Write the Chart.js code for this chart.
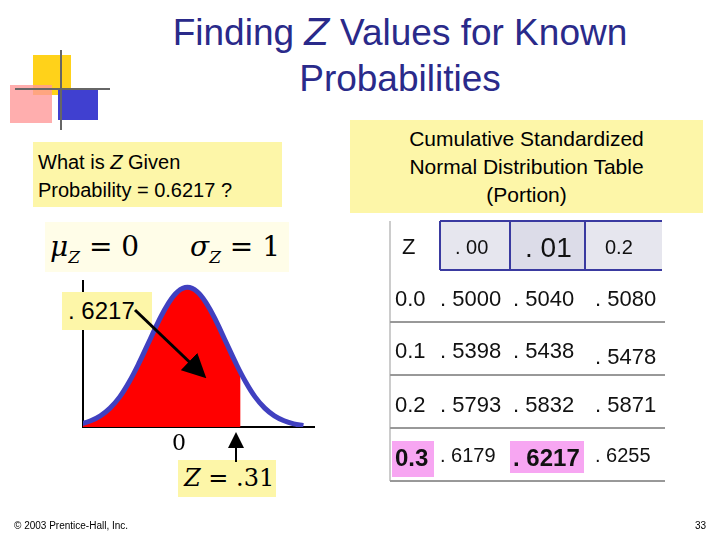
<!DOCTYPE html>
<html>
<head>
<meta charset="utf-8">
<script src="https://cdn.jsdelivr.net/npm/chart.js@4/dist/chart.umd.min.js"></script>
<style>
  html, body { margin: 0; padding: 0; background: #fff; }
  body { width: 720px; height: 540px; position: relative; overflow: hidden; font-family: Arial, "Liberation Sans", sans-serif; }
  .abs { position: absolute; white-space: nowrap; }
  .yel { background: #fdf6a8; }
  .title { left: 120px; width: 560px; top: 10px; text-align: center; font-size: 37px; color: #2a2a8a; line-height: 46px; }
  .tbl { font-size: 22px; color: #111; }
</style>
</head>
<body>
<!-- decoration -->
<div class="abs" style="left:33px;top:55px;width:38px;height:40px;background:#ffd21a"></div>
<div class="abs" style="left:10px;top:85px;width:42px;height:38px;background:#ff9a9a;opacity:0.8"></div>
<div class="abs" style="left:58px;top:88px;width:40px;height:32px;background:#4040d0"></div>
<div class="abs" style="left:60px;top:50px;width:2px;height:80px;background:#666"></div>
<div class="abs" style="left:15px;top:88px;width:95px;height:2px;background:#666"></div>

<div class="abs title">Finding <i style="font-family:'DejaVu Sans'">Z</i> Values for Known<br>Probabilities</div>

<div class="abs yel" style="left:33px;top:142px;width:249px;height:65px;font-size:20px;padding:6px 0 0 5px;box-sizing:border-box;line-height:28px">What is <i>Z</i> Given<br>Probability = 0.6217 ?</div>
<div class="abs yel" style="left:350px;top:120px;width:353px;height:93px;font-size:21px;text-align:center;padding-top:5px;box-sizing:border-box;line-height:28px">Cumulative Standardized<br>Normal Distribution Table<br>(Portion)</div>

<div class="abs" style="left:45px;top:222px;width:244px;height:50px;background:#fffde8;font-family:'DejaVu Serif',serif;font-size:28px;line-height:50px">
  <span style="position:absolute;left:5px"><i>μ</i><sub style="font-size:17px"><i>Z</i></sub> = 0</span>
  <span style="position:absolute;left:145px"><i>σ</i><sub style="font-size:17px"><i>Z</i></sub> = 1</span>
</div>

<div class="abs" style="left:75px;top:280px;width:240px;height:155px"><canvas id="c"></canvas></div>

<div class="abs yel" style="left:62px;top:292px;width:90px;height:38px;font-size:24px;line-height:38px;padding-left:6px;box-sizing:border-box">. 6217</div>
<div class="abs" style="left:172px;top:430px;font-family:'DejaVu Serif',serif;font-size:22px">0</div>
<div class="abs yel" style="left:178px;top:460px;width:98px;height:37px;font-family:'DejaVu Serif',serif;font-size:24px;line-height:37px;padding-left:6px;box-sizing:border-box"><i>Z</i> = .31</div>

<svg class="abs" style="left:0;top:0" width="720" height="540">
  <defs><marker id="ah" markerWidth="8" markerHeight="8" refX="6" refY="4" orient="auto"><path d="M0,0 L8,4 L0,8 z" fill="#000"/></marker></defs>
  <line x1="135" y1="310" x2="202" y2="374" stroke="#000" stroke-width="3" marker-end="url(#ah)"/>
  <line x1="236" y1="462" x2="236" y2="436" stroke="#000" stroke-width="2" marker-end="url(#ah)"/>
  <!-- table -->
  <rect x="440" y="221" width="222" height="49" fill="#e6e6ee"/>
  <rect x="510" y="221" width="75" height="49" fill="#dcdce8"/>
  <line x1="440" y1="221" x2="662" y2="221" stroke="#3a3aa0" stroke-width="2"/>
  <line x1="440" y1="270" x2="662" y2="270" stroke="#3a3aa0" stroke-width="2"/>
  <line x1="440" y1="221" x2="440" y2="270" stroke="#3a3aa0" stroke-width="2"/>
  <line x1="510" y1="221" x2="510" y2="270" stroke="#3a3aa0" stroke-width="2"/>
  <line x1="585" y1="221" x2="585" y2="270" stroke="#3a3aa0" stroke-width="2"/>
  <line x1="390" y1="322" x2="665" y2="322" stroke="#333"/>
  <line x1="390" y1="375" x2="665" y2="375" stroke="#333"/>
  <line x1="390" y1="428" x2="665" y2="428" stroke="#333"/>
  <line x1="390" y1="481" x2="665" y2="481" stroke="#333"/>
  <line x1="390" y1="221" x2="390" y2="481" stroke="#999"/>
  <rect x="392" y="441" width="42" height="36" fill="#f7a6f2"/>
  <rect x="510" y="441" width="74" height="32" fill="#f7a6f2"/>
</svg>

<div class="abs tbl" style="left:402px;top:234px">Z</div>
<div class="abs tbl" style="left:455px;top:236px;font-size:20px">. 00</div>
<div class="abs tbl" style="left:525px;top:232px;font-size:28px">. 01</div>
<div class="abs tbl" style="left:605px;top:236px;font-size:20px">0.2</div>
<div id="rows"></div>

<script>
// normal density sampled at z = -3 .. 3, step 0.25 (drawing coords)
var zs = [-3,-2.75,-2.5,-2.25,-2,-1.75,-1.5,-1.25,-1,-0.75,-0.5,-0.25,0,0.25,0.5,0.75,1,1.25,1.5,1.75,2,2.25,2.5,2.75,3];
var dens = [0.004,0.009,0.018,0.032,0.054,0.086,0.130,0.183,0.242,0.301,0.352,0.387,0.399,0.387,0.352,0.301,0.242,0.183,0.130,0.086,0.054,0.032,0.018,0.009,0.004];
var fillTo = 1.375; // shaded edge, schematic position of Z = .31

var rowZ = ["0.0", "0.1", "0.2", "0.3"];
var col00 = [".5000", ".5398", ".5793", ".6179"];
var col01 = [".5040", ".5438", ".5832", ".6217"];
var col02 = [".5080", ".5478", ".5871", ".6255"];

var rowTop = [286, 338, 392, 444];
var html = "";
for (var i = 0; i < rowZ.length; i++) {
  var last = i === 3;
  html += '<div class="abs tbl" style="left:395px;top:' + rowTop[i] + 'px;' + (last ? 'font-weight:bold;font-size:24px' : '') + '">' + rowZ[i] + '</div>';
  html += '<div class="abs tbl" style="left:440px;top:' + rowTop[i] + 'px;' + (last ? 'font-size:20px' : '') + '">. ' + col00[i].slice(1) + '</div>';
  html += '<div class="abs tbl" style="left:513px;top:' + rowTop[i] + 'px;' + (last ? 'font-weight:bold;font-size:24px' : '') + '">. ' + col01[i].slice(1) + '</div>';
  html += '<div class="abs tbl" style="left:595px;top:' + (rowTop[i] + (i === 1 ? 6 : 0)) + 'px;' + (last ? 'font-size:20px' : '') + '">. ' + col02[i].slice(1) + '</div>';
}
document.getElementById('rows').innerHTML = html;

var curve = zs.map(function (z, i) { return { x: z, y: dens[i] }; });
var shaded = curve.filter(function (p) { return p.x <= fillTo; });
shaded.push({ x: fillTo, y: 0.155 });
shaded.push({ x: fillTo, y: 0 });

new Chart(document.getElementById('c'), {
  type: 'line',
  data: {
    datasets: [
      { data: curve, borderColor: '#4040c0', borderWidth: 5, pointRadius: 0, tension: 0.4, fill: false },
      { data: shaded, borderColor: 'rgba(0,0,0,0)', backgroundColor: '#ff0000', pointRadius: 0, tension: 0, fill: 'origin' }
    ]
  },
  options: {
    responsive: true, maintainAspectRatio: false, animation: false,
    plugins: { legend: { display: false }, tooltip: { enabled: false } },
    layout: { padding: 0 },
    scales: {
      x: { type: 'linear', min: -2.7, max: 3.3, grid: { display: false }, ticks: { display: false }, border: { color: '#000', width: 2 } },
      y: { min: 0, max: 0.42, grid: { display: false }, ticks: { display: false }, border: { color: '#000', width: 2 } }
    }
  }
});
</script>

<div class="abs" style="left:14px;top:520px;font-size:10px">© 2003 Prentice-Hall, Inc.</div>
<div class="abs" style="left:695px;top:520px;font-size:10px">33</div>
</body>
</html>
